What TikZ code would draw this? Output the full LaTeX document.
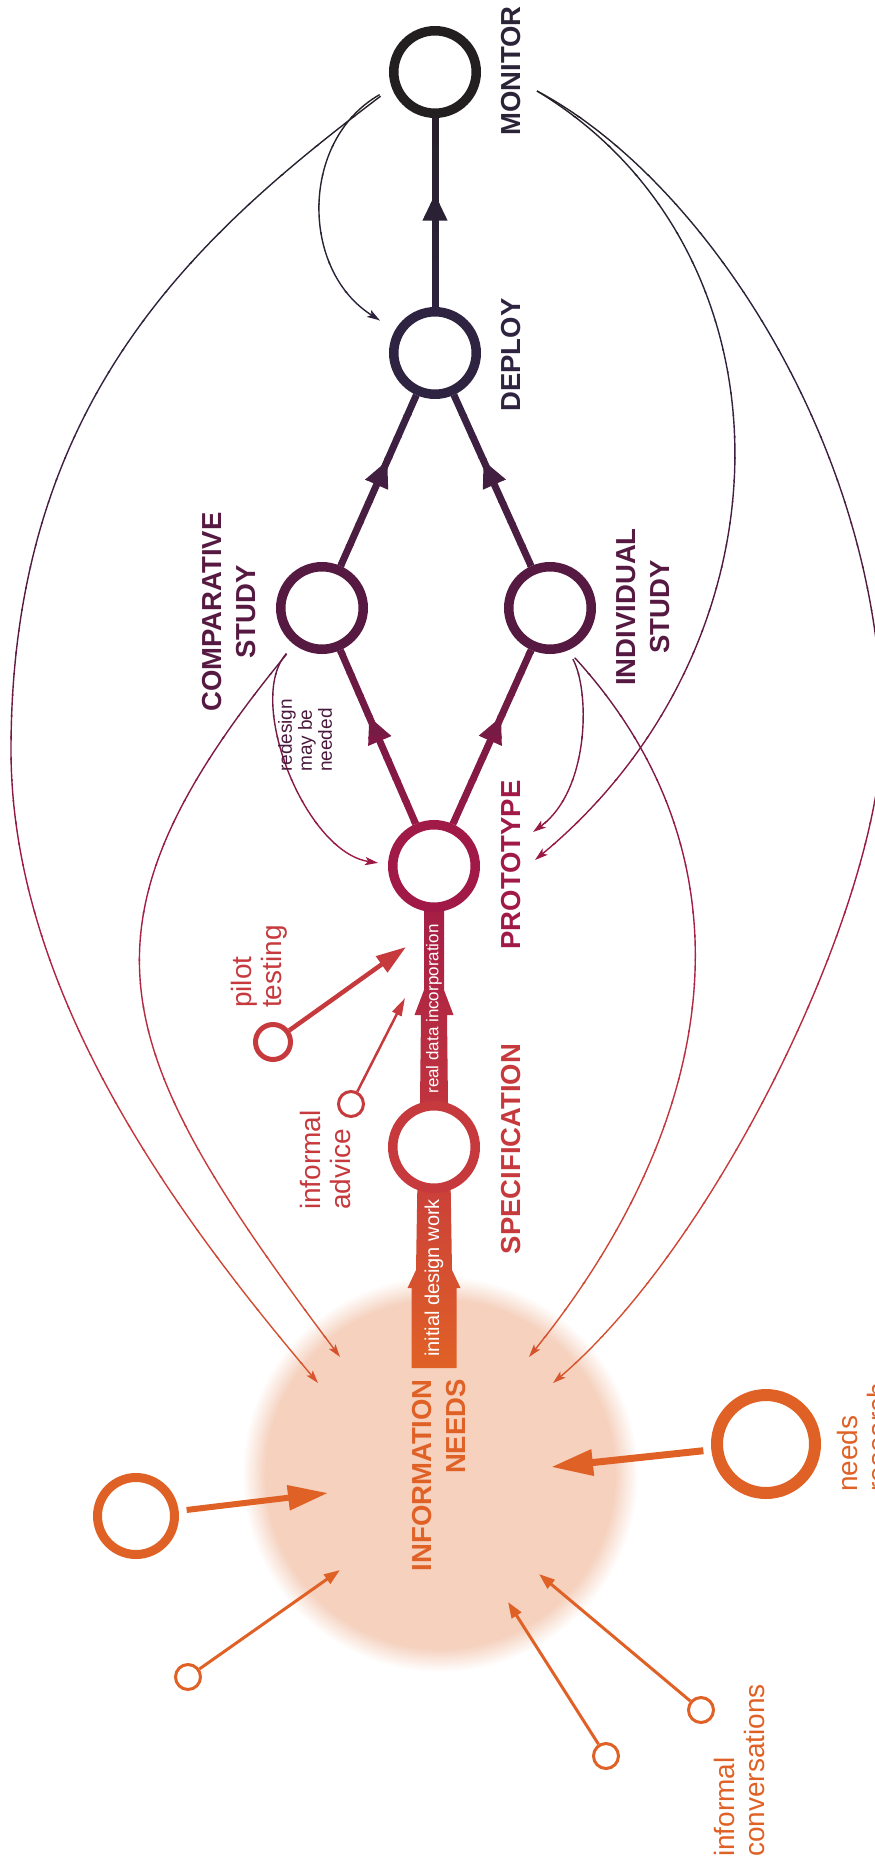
\documentclass[tikz,border=0pt]{standalone}
\usepackage{fontspec}
\setmainfont{Liberation Sans}
\usetikzlibrary{arrows.meta, decorations.markings, backgrounds}

\definecolor{cMon}{HTML}{231F20}
\definecolor{cMonText}{HTML}{2B2438}
\definecolor{cDep}{HTML}{2E2340}
\definecolor{cStudy}{HTML}{561A42}
\definecolor{cProto}{HTML}{A01947}
\definecolor{cSpec}{HTML}{C6393D}
\definecolor{cInfo}{HTML}{E06126}
\definecolor{cBlob}{HTML}{F5D1BE}
\definecolor{cNote}{HTML}{4A1A3E}
\colorlet{grad}{cMon}

\pgfdeclareradialshading{blobglow}{\pgfpoint{0bp}{0bp}}{color(0bp)=(cBlob); color(22bp)=(cBlob); color(25bp)=(white); color(50bp)=(white)}

% links that take the top-to-bottom colour gradient
\newcommand{\gradlinks}{%
  \draw[spine=0.6] (dep) -- (mon);
  \draw[spine=0.62] (comp) -- (dep);
  \draw[spine=0.62] (indiv) -- (dep);
  \draw[spine=0.62] (proto) -- (comp);
  \draw[spine=0.62] (proto) -- (indiv);
  % feedback loops, left side
  \draw[feedback, shorten <=14pt, shorten >=18pt] (mon.200) .. controls (300,-140) and (300,-270) .. (dep.150);
  \draw[feedback, shorten <=14pt] (mon.200) .. controls (197,-235) and (11,-400) .. (11,-750)
    .. controls (11,-1000) and (189,-1230) .. (tMonL);
  \draw[feedback, shorten <=12pt] (comp.233) .. controls (60,-930) and (110,-1050) .. (tComp);
  \draw[feedback, shorten <=12pt, shorten >=10pt] (comp.233) .. controls (245,-700) and (305,-852) .. (proto.178);
  % feedback loops, right side
  \draw[feedback, shorten <=10pt] (indiv.293) .. controls (590,-690) and (590,-790) .. (tIndP);
  \draw[feedback, shorten <=10pt] (indiv.293) .. controls (760,-860) and (720,-1120) .. (tIndI);
  \draw[feedback] (monR) .. controls (800,-250) and (800,-640) .. (tMonP);
  \draw[feedback] (monR) .. controls (705,-180) and (882,-450) .. (882,-730)
    .. controls (882,-900) and (720,-1240) .. (tMonR);
}

\begin{document}
\begin{tikzpicture}[x=1pt, y=1pt]
  % Styles
  \tikzset{
    stage/.style={circle, draw=#1, fill=white, line width=9.5pt, minimum size=82.5pt, inner sep=0pt},
    source/.style={circle, draw=#1, fill=white, line width=3pt, minimum size=25pt, inner sep=0pt},
    stagelabel/.style={rotate=90, text=#1, font=\bfseries\fontsize{27.5}{34}\selectfont, align=center, inner sep=0pt},
    note/.style={rotate=90, text=#1, font=\fontsize{28}{30}\selectfont, align=left, inner sep=0pt},
    bandlabel/.style={rotate=90, text=white, inner sep=0pt},
    spine/.style={line width=7pt, color=grad, postaction={decorate},
      decoration={markings, mark=at position #1 with {\arrow{Triangle[length=27pt, width=23pt]}}}},
    feedback/.style={line width=1.4pt, color=grad, -{Stealth[length=13pt, width=8pt, inset=3pt]}},
    infeed/.style={draw=#1, line width=3pt, -{Triangle[length=16pt, width=11pt]}}
  }
  \useasboundingbox (0,0) rectangle (875,-1863);

  % Stages
  \node[stage=cMon] (mon) at (435,-72) {};
  \node[stage=cDep] (dep) at (435,-353) {};
  \node[stage=cStudy] (comp) at (322,-608) {};
  \node[stage=cStudy] (indiv) at (550,-608) {};
  \node[stage=cProto] (proto) at (434,-866) {};
  \node[stage=cSpec] (spec) at (434,-1147) {};
  \coordinate (info) at (440,-1474);

  % Blob and broad arrows behind the stages
  \begin{scope}[on background layer]
    \shade[shading=blobglow] (info) circle (198pt);
    \begin{scope}[shift={(spec)}]
      \shade[top color=cProto, bottom color=cSpec] (-14.5,0) -- (-13,132) -- (-19.5,132) -- (-10,157) -- (-10,281)
        -- (10,281) -- (10,157) -- (19.5,132) -- (13,132) -- (14.5,0) -- cycle;
      \shade[top color=cSpec, bottom color=cInfo] (-22.5,-221) -- (-22.5,-141) -- (-26.5,-141) -- (-18,-123) -- (-16,0)
        -- (16,0) -- (18,-123) -- (26.5,-141) -- (22.5,-141) -- (22.5,-221) -- cycle;
    \end{scope}
  \end{scope}

  % Ends of the thin links
  \coordinate (monR) at (537,-91);
  \coordinate (tMonL) at (318,-1383);
  \coordinate (tComp) at (340,-1357);
  \coordinate (tIndP) at (533,-832);
  \coordinate (tIndI) at (529,-1357);
  \coordinate (tMonP) at (535,-860);
  \coordinate (tMonR) at (553,-1383);

  % Gradient links, drawn strip by strip
  \foreach \ya/\yb/\ca/\cb in {0/350/cMon/cDep, 350/610/cDep/cStudy, 610/865/cStudy/cProto,
      865/1150/cProto/cSpec, 1150/1470/cSpec/cInfo, 1470/1870/cInfo/cInfo} {
    \foreach \k in {0,...,11} {
      \pgfmathsetmacro{\ytop}{-(\ya+(\yb-\ya)*\k/12-0.6)}
      \pgfmathsetmacro{\ybot}{-(\ya+(\yb-\ya)*(\k+1)/12+0.6)}
      \pgfmathtruncatemacro{\p}{(\k+0.5)*100/12}
      \colorlet{grad}{\cb!\p!\ca}
      \begin{scope}
        \clip (-20,\ytop) rectangle (900,\ybot);
        \gradlinks
      \end{scope}
    }
  }

  % Stage labels
  \node[stagelabel=cMonText] (lMon) at (511,-71) {MONITOR};
  \node[stagelabel=cDep] (lDep) at (511,-355) {DEPLOY};
  \node[stagelabel=cStudy] (lComp) at (229,-612) {COMPARATIVE\\STUDY};
  \node[stagelabel=cStudy] (lIndiv) at (643,-607) {INDIVIDUAL\\STUDY};
  \node[stagelabel=cProto] (lProto) at (511,-865) {PROTOTYPE};
  \node[stagelabel=cSpec] (lSpec) at (511,-1149) {SPECIFICATION};
  \node[stagelabel=cInfo, align=right, anchor=east] (lInfo) at (439,-1379) {INFORMATION\\NEEDS};

  % Labels on the broad arrows
  \node[bandlabel, font=\fontsize{17}{17}\selectfont] (lReal) at (434,-1009) {real data incorporation};
  \node[bandlabel, font=\fontsize{20}{20}\selectfont] (lInit) at (434,-1278) {initial design work};

  % Inputs
  \node[source=cInfo, line width=9pt, minimum size=77pt] (lc) at (136,-1516) {};
  \node[source=cInfo, line width=12pt, minimum size=98pt] (rs) at (766,-1444) {};
  \node[source=cInfo] (s1) at (188,-1677) {};
  \node[source=cInfo] (s2) at (606,-1756) {};
  \node[source=cInfo] (s3) at (701,-1710) {};
  \node[source=cSpec, line width=5pt, minimum size=35pt] (pilot) at (273,-1042) {};
  \node[source=cSpec] (advice) at (351,-1104) {};

  \coordinate (tLc) at (328,-1493);
  \coordinate (tRs) at (551,-1467);
  \coordinate (tS1) at (340,-1570);
  \coordinate (tS2) at (508,-1602);
  \coordinate (tS3) at (539,-1574);
  \coordinate (tPilot) at (406,-947);
  \coordinate (tAdvice) at (405,-998);

  \draw[infeed=cInfo, line width=6pt, -{Triangle[length=40pt, width=24pt]}, shorten <=8pt] (lc) -- (tLc);
  \draw[infeed=cInfo, line width=7pt, -{Triangle[length=42pt, width=25pt]}, shorten <=8pt] (rs) -- (tRs);
  \draw[infeed=cInfo] (s1) -- (tS1);
  \draw[infeed=cInfo] (s2) -- (tS2);
  \draw[infeed=cInfo] (s3) -- (tS3);
  \draw[infeed=cSpec, line width=4.5pt, -{Triangle[length=30pt, width=19pt]}] (pilot) -- (tPilot);
  \draw[infeed=cSpec, line width=2.5pt, -{Triangle[length=18pt, width=10pt]}] (advice) -- (tAdvice);

  % Notes
  \node[note=cNote, font=\fontsize{19}{20}\selectfont, anchor=west] (lRedesign) at (305,-772) {redesign\\may be\\needed};
  \node[note=cSpec, anchor=west] (lPilot) at (259,-1008) {pilot\\testing};
  \node[note=cSpec, anchor=west] (lAdvice) at (325,-1210) {informal\\advice};
  \node[note=cInfo, anchor=west] (lResearch) at (862,-1492) {needs\\research};
  \node[note=cInfo, anchor=west] (lConv) at (739,-1857) {informal\\conversations};
\end{tikzpicture}
\end{document}
